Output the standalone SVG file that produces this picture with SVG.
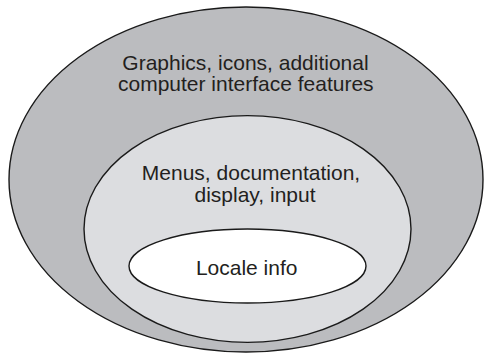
<svg xmlns="http://www.w3.org/2000/svg" width="484" height="354" viewBox="0 0 484 354">
  <style>
    .ring { stroke: #1a1a1a; stroke-width: 1.4; }
    .lbl { font-family: "Liberation Sans", Arial, Helvetica, sans-serif; font-size: 21px; fill: #231f20; text-anchor: middle; }
  </style>
  <rect width="484" height="354" fill="#ffffff"/>
  <g id="outer">
    <ellipse class="ring" cx="246" cy="179.5" rx="237" ry="172.5" fill="#bbbcbf"/>
    <text class="lbl" x="245.5" y="70">Graphics, icons, additional</text>
    <text class="lbl" x="245.8" y="91">computer interface features</text>
  </g>
  <g id="middle">
    <ellipse class="ring" cx="247.5" cy="229" rx="163.5" ry="113.4" fill="#dcdde0"/>
    <text class="lbl" x="251" y="180">Menus, documentation,</text>
    <text class="lbl" x="255" y="202">display, input</text>
  </g>
  <g id="inner">
    <ellipse class="ring" cx="247.5" cy="266" rx="118.5" ry="37" fill="#ffffff"/>
    <text class="lbl" x="246.7" y="275">Locale info</text>
  </g>
  <g id="connectors"/>
</svg>
